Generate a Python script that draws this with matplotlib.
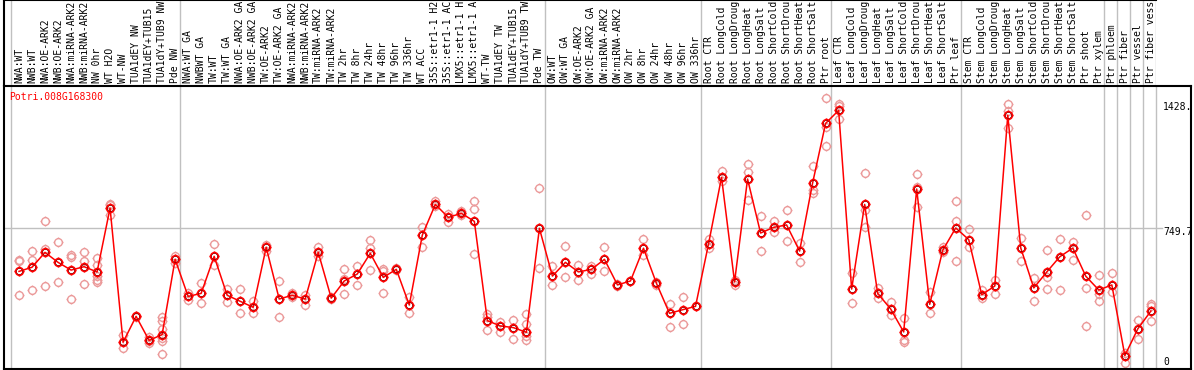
import matplotlib
matplotlib.use("Agg")
import matplotlib.pyplot as plt
from matplotlib.path import Path

# etiquettes des echantillons (tronquees comme sur l'image)
labels = ["NWA:WT", "NWB:WT", "NWA:OE-ARK2", "NWB:OE-ARK2", "NWA:miRNA-ARK2", "NWB:miRNA-ARK2",
          "NW 0hr", "WT H2O", "WT-NW", "TUA1dEY NW", "TUA1dEY+TUB15", "TUA1dY+TUB9 NW", "Pde NW",
          "NWA:WT GA", "NWBWT GA", "TW:WT", "TW:WT GA", "NWA:OE-ARK2 GA", "NWB:OE-ARK2 GA",
          "TW:OE-ARK2", "TW:OE-ARK2 GA", "NWA:miRNA-ARK2", "NWB:miRNA-ARK2", "TW:miRNA-ARK2",
          "TW:miRNA-ARK2", "TW 2hr", "TW 8hr", "TW 24hr", "TW 48hr", "TW 96hr", "TW 336hr",
          "WT ACC", "35S::etr1-1 H2", "35S::etr1-1 AC", "LMX5::etr1-1 H", "LMX5::etr1-1 A",
          "WT-TW", "TUA1dEY TW", "TUA1dEY+TUB15", "TUA1dY+TUB9 TW", "Pde TW",
          "OW:WT", "OW:WT GA", "OW:OE-ARK2", "OW:OE-ARK2 GA", "OW:miRNA-ARK2", "OW:miRNA-ARK2",
          "OW 2hr", "OW 8hr", "OW 24hr", "OW 48hr", "OW 96hr", "OW 336hr",
          "Root CTR", "Root LongCold", "Root LongDroug", "Root LongHeat", "Root LongSalt",
          "Root ShortCold", "Root ShortDrou", "Root ShortHeat", "Root ShortSalt", "Ptr root",
          "Leaf CTR", "Leaf LongCold", "Leaf LongDroug", "Leaf LongHeat", "Leaf LongSalt",
          "Leaf ShortCold", "Leaf ShortDrou", "Leaf ShortHeat", "Leaf ShortSalt", "Ptr leaf",
          "Stem CTR", "Stem LongCold", "Stem LongDroug", "Stem LongHeat", "Stem LongSalt",
          "Stem ShortCold", "Stem ShortDrou", "Stem ShortHeat", "Stem ShortSalt", "Ptr shoot",
          "Ptr xylem", "Ptr phloem", "Ptr fiber", "Ptr vessel", "Ptr fiber vess"]

# moyennes
means = [519, 541, 620, 567, 526, 544, 516, 856, 142, 280, 152, 183, 583,
         386, 402, 599, 392, 360, 328, 647, 372, 392, 372, 620, 377, 468, 505, 615, 487, 530,
         340, 712, 875, 806, 828, 785, 257, 229, 220, 195, 748,
         494, 567, 516, 530, 583, 447, 468, 642, 455, 296, 315, 333,
         665, 1019, 463, 1010, 723, 753, 766, 627, 989, 1306,
         1375, 425, 875, 402, 319, 197, 957, 344, 631, 750,
         688, 395, 441, 1349, 643, 431, 516, 597, 643, 493, 420,
         447, 71, 214, 308]

# replicats
reps = [[581, 576, 395], [626, 578, 418], [785, 638, 440], [673, 461], [608, 595, 370],
        [622, 576, 450], [590, 551, 493, 475, 461], [877, 870, 817], [183, 112], [284, 275],
        [168, 147, 138], [278, 253, 214, 165, 147, 82], [603, 564],
        [404, 369], [455, 349], [663, 555], [425, 354], [424, 296], [360, 300], [657, 629],
        [466, 275], [404, 383], [395, 342], [649, 599], [383, 372], [530, 480, 397], [549, 445],
        [686, 643, 525], [532, 523, 402], [535, 525], [383, 296], [753, 647], [891, 865],
        [826, 780], [838, 820], [891, 852, 611], [292, 275, 207], [248, 195], [259, 160],
        [291, 239, 174, 152], [962, 535],
        [546, 447], [652, 487], [553, 473], [546, 507], [647, 521], [452, 443], [468],
        [689, 604], [463, 448], [346, 223], [381, 239], [333],
        [693, 643], [1051, 998], [475, 448], [1090, 1046, 898], [812, 626], [785, 728],
        [844, 679], [670, 569], [1077, 953, 934], [1441, 1288, 1184],
        [1411, 1400, 1331], [510, 351], [1042, 847, 753], [431, 377], [354, 289],
        [271, 156, 144], [1037, 966, 859], [408, 298], [647, 622], [891, 785, 574],
        [744, 647], [418, 377], [475, 397], [1409, 1370, 1281], [696, 574], [484, 360],
        [631, 489, 424], [691, 418], [673, 581], [819, 429, 229], [498, 399, 360],
        [510, 408], [85, 30], [259, 158], [346, 333, 257]]

# separations des groupes
group_lines = [-0.6, 12.4, 40.4, 52.4, 62.4, 72.4, 83.4, 84.4, 85.4, 86.4, 87.4]
y_max = 1504.7
y_mid = 749.7
y_labels = ["1428.", "749.7", "0"]
gene = "Potri.008G168300"

W, H = 1194, 370
mono = "DejaVu Sans Mono"
red = "#ff0000"
pale = "#eb9a9a"
grey = "#c0c0c0"

# marqueur cercle avec petites graduations
circ = Path.unit_circle()
tv = [(0, 1), (0, 1.3), (0, -1), (0, -1.3), (1, 0), (1.3, 0), (-1, 0), (-1.3, 0)]
tc = [Path.MOVETO, Path.LINETO] * 4
mk = Path.make_compound_path(circ, Path(tv, tc))

fig = plt.figure(figsize=(W / 100, H / 100), dpi=100)
x0 = -1.153
px = 13.01
ax = fig.add_axes([4 / W, 1 / H, 1187 / W, 283 / H])
ax.set_xlim(x0, x0 + 1187 / px)
ax.set_ylim(0, y_max)
for s in ax.spines.values():
    s.set_color("black")
    s.set_linewidth(1.5)
ax.set_xticks([])
ax.set_yticks([])

for g in group_lines:
    ax.axvline(g, color=grey, lw=1, zorder=0)
ax.plot([x0, 87.85], [y_mid, y_mid], color=grey, lw=1, zorder=0)

xs = list(range(len(means)))
rx, ry = [], []
for i, r in enumerate(reps):
    for v in r:
        rx.append(i)
        ry.append(v)
ax.plot(rx, ry, ls="none", marker=mk, ms=7.2, mfc="none", mec=pale, mew=1, zorder=2)
ax.plot(xs, means, color=red, lw=1.1, zorder=3)
ax.plot(xs, means, ls="none", marker="o", ms=4.6, mfc="none", mec="black", mew=0.6, zorder=4)
ax.plot(xs, means, ls="none", marker=mk, ms=7.2, mfc="none", mec=red, mew=1.2, zorder=5)

ax.text(9 / W, 1 - 97 / H, gene, transform=fig.transFigure, color=red, family=mono,
        fontsize=7, ha="left", va="center")
for lab, yp in zip(y_labels, [107, 232, 362]):
    ax.text(1163 / W, 1 - yp / H, lab, transform=fig.transFigure, color="black",
            family=mono, fontsize=7, ha="left", va="center")

# zone des etiquettes
lx = fig.add_axes([4 / W, (H - 85) / H, 1152 / W, 85 / H])
lx.set_xlim(x0, x0 + 1152 / px)
lx.set_ylim(0, 1)
lx.set_xticks([])
lx.set_yticks([])
lx.spines["right"].set_visible(False)
lx.spines["bottom"].set_visible(False)
lx.spines["left"].set_linewidth(1.5)
lx.spines["top"].set_linewidth(1.5)
lx.patch.set_alpha(0)
for g in group_lines:
    lx.axvline(g, color=grey, lw=1, zorder=0)
for i, lab in enumerate(labels):
    lx.text(i, 2 / 85, lab, rotation=90, ha="center", va="bottom", family=mono,
            fontsize=7, color="black")

fig.savefig("out.png", dpi=100)
